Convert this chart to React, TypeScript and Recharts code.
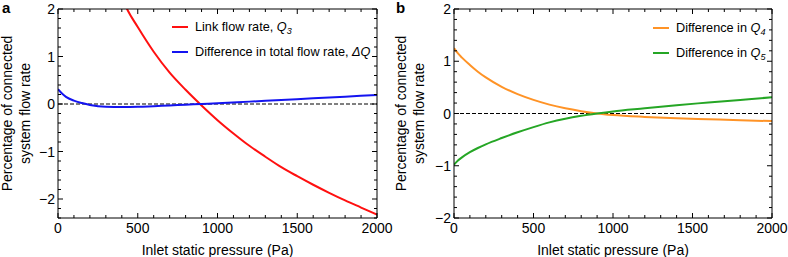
import React from 'react';
import { LineChart, Line, XAxis, YAxis, ReferenceLine, Legend } from 'recharts';

// ---- data ----
const pressureTicks = [0, 100, 200, 300, 400, 500, 600, 700, 800, 900, 1000, 1100, 1200, 1300, 1400, 1500, 1600, 1700, 1800, 1900, 2000];
const yTicksA = [-2.4, -2.2, -2, -1.8, -1.6, -1.4, -1.2, -1, -0.8, -0.6, -0.4, -0.2, 0, 0.2, 0.4, 0.6, 0.8, 1, 1.2, 1.4, 1.6, 1.8, 2];
const yTicksB = [-2, -1.8, -1.6, -1.4, -1.2, -1, -0.8, -0.6, -0.4, -0.2, 0, 0.2, 0.4, 0.6, 0.8, 1, 1.2, 1.4, 1.6, 1.8, 2];

const q3Pressure = [400, 433, 500, 600, 700, 800, 900, 1000, 1100, 1200, 1300, 1400, 1500, 1600, 1700, 1800, 1900, 2000];
const q3Values = [2.25, 2.0, 1.62, 1.1, 0.66, 0.3, -0.03, -0.34, -0.62, -0.88, -1.11, -1.33, -1.52, -1.7, -1.87, -2.03, -2.18, -2.33];

const dqPressure = [0, 25, 50, 100, 150, 200, 300, 400, 500, 600, 700, 800, 900, 1000, 1200, 1400, 1600, 1800, 2000];
const dqValues = [0.31, 0.22, 0.15, 0.07, 0.02, -0.02, -0.06, -0.065, -0.06, -0.045, -0.03, -0.015, 0, 0.015, 0.05, 0.085, 0.12, 0.155, 0.19];

const qbPressure = [0, 25, 50, 100, 150, 200, 300, 400, 500, 600, 700, 800, 900, 1000, 1200, 1400, 1600, 1800, 2000];
const q4Values = [1.25, 1.15, 1.07, 0.93, 0.8, 0.69, 0.51, 0.37, 0.26, 0.17, 0.1, 0.045, 0, -0.03, -0.065, -0.09, -0.11, -0.13, -0.145];
const q5Values = [-0.98, -0.9, -0.84, -0.74, -0.66, -0.59, -0.47, -0.36, -0.26, -0.17, -0.1, -0.045, 0, 0.04, 0.1, 0.16, 0.21, 0.26, 0.31];

const toPoints = (xs: number[], ys: number[]) => xs.map((x, i) => ({ x, y: ys[i] }));

const FONT = '"Liberation Sans", Arial, Helvetica, sans-serif';

type Series = { key: string; points: { x: number; y: number }[]; color: string; pre: string; q: string; sub: string };

const seriesA: Series[] = [
  { key: 'q3', points: toPoints(q3Pressure, q3Values), color: '#ff1010', pre: 'Link flow rate, ', q: 'Q', sub: '3' },
  { key: 'dq', points: toPoints(dqPressure, dqValues), color: '#1414f0', pre: 'Difference in total flow rate, ', q: 'ΔQ', sub: '' },
];
const seriesB: Series[] = [
  { key: 'q4', points: toPoints(qbPressure, q4Values), color: '#ff9326', pre: 'Difference in ', q: 'Q', sub: '4' },
  { key: 'q5', points: toPoints(qbPressure, q5Values), color: '#25a625', pre: 'Difference in ', q: 'Q', sub: '5' },
];

const isMajorX = (v: number) => Math.abs(v % 500) < 1e-6;
const isMajorY = (v: number) => Math.abs(v - Math.round(v)) < 1e-6;
const fmtY = (v: number) => (v < 0 ? '\u2212' + Math.abs(v) : String(v));

const BottomTick = (props: any) => {
  const { x, y, payload } = props;
  const v = payload.value;
  const major = isMajorX(v);
  return (
    <g>
      <line x1={x} x2={x} y1={y} y2={y - (major ? 5 : 3)} stroke="#000" strokeWidth={1} />
      {major && (
        <text x={x} y={y + 15} textAnchor="middle" fontSize={14} fill="#000" fontFamily={FONT}>
          {v}
        </text>
      )}
    </g>
  );
};

const TopTick = (props: any) => {
  const { x, y, payload } = props;
  const major = isMajorX(payload.value);
  return <line x1={x} x2={x} y1={y} y2={y + (major ? 5 : 3)} stroke="#000" strokeWidth={1} />;
};

const LeftTick = (props: any) => {
  const { x, y, payload } = props;
  const v = payload.value;
  const major = isMajorY(v);
  return (
    <g>
      <line x1={x} x2={x + (major ? 5 : 3)} y1={y} y2={y} stroke="#000" strokeWidth={1} />
      {major && (
        <text x={x - 3} y={y + 5} textAnchor="end" fontSize={14} fill="#000" fontFamily={FONT}>
          {fmtY(v)}
        </text>
      )}
    </g>
  );
};

const RightTick = (props: any) => {
  const { x, y, payload } = props;
  const major = isMajorY(payload.value);
  return <line x1={x} x2={x - (major ? 5 : 3)} y1={y} y2={y} stroke="#000" strokeWidth={1} />;
};

const makeYLabel = (letter: string, cy: number) => () => (
  <g>
    <text x={2} y={13} fontSize={15} fontWeight="bold" fill="#000" fontFamily={FONT}>
      {letter}
    </text>
    <text transform={`translate(12, ${cy}) rotate(-90)`} textAnchor="middle" fontSize={14} fill="#000" fontFamily={FONT}>
      <tspan x={0} y={0}>Percentage of connected</tspan>
      <tspan x={0} y={18}>system flow rate</tspan>
    </text>
  </g>
);

const makeLegend = (series: Series[], left: number, top: number) => {
  const content = () => (
    <div style={{ fontFamily: FONT, fontSize: 12.7, color: '#000' }}>
      {series.map((s) => (
        <div key={s.key} style={{ display: 'flex', alignItems: 'center', height: 25, whiteSpace: 'nowrap' }}>
          <span style={{ display: 'inline-block', width: 16, height: 2, background: s.color, marginRight: 7 }} />
          <span>
            {s.pre}
            <i>{s.q}</i>
            {s.sub && (
              <i style={{ fontSize: 9, position: 'relative', top: 3 }}>{s.sub}</i>
            )}
          </span>
        </div>
      ))}
    </div>
  );
  return (
    <Legend
      layout="vertical"
      align="center"
      verticalAlign="middle"
      content={content}
      wrapperStyle={{ left, top, width: 'auto', height: 'auto' }}
    />
  );
};

type PanelProps = {
  letter: string;
  series: Series[];
  yDomain: [number, number];
  yTicks: number[];
  yAxisWidth: number;
  rightMargin: number;
  legendLeft: number;
  legendTop: number;
};

const Panel = ({ letter, series, yDomain, yTicks, yAxisWidth, rightMargin, legendLeft, legendTop }: PanelProps) => {
  const cy = (9 + 218) / 2;
  return (
    <LineChart width={394} height={257} margin={{ top: 8, right: rightMargin, bottom: 0, left: 0 }}>
      <XAxis
        dataKey="x"
        type="number"
        domain={[0, 2000]}
        ticks={pressureTicks}
        interval={0}
        tickSize={0}
        tickMargin={0}
        tickLine={false}
        tick={<BottomTick />}
        axisLine={{ stroke: '#000', strokeWidth: 1 }}
        height={39}
        allowDataOverflow
        label={{ value: 'Inlet static pressure (Pa)', position: 'insideBottom', offset: 2, fill: '#000', fontSize: 14, fontFamily: FONT }}
      />
      <XAxis
        xAxisId="top"
        orientation="top"
        dataKey="x"
        type="number"
        domain={[0, 2000]}
        ticks={pressureTicks}
        interval={0}
        tickSize={0}
        tickMargin={0}
        tickLine={false}
        tick={<TopTick />}
        axisLine={{ stroke: '#000', strokeWidth: 1 }}
        height={1}
        allowDataOverflow
      />
      <YAxis
        type="number"
        domain={yDomain}
        ticks={yTicks}
        interval={0}
        tickSize={0}
        tickMargin={0}
        tickLine={false}
        tick={<LeftTick />}
        axisLine={{ stroke: '#000', strokeWidth: 1 }}
        width={yAxisWidth}
        allowDataOverflow
        label={{ content: makeYLabel(letter, cy) }}
      />
      <YAxis
        yAxisId="right"
        orientation="right"
        type="number"
        domain={yDomain}
        ticks={yTicks}
        interval={0}
        tickSize={0}
        tickMargin={0}
        tickLine={false}
        tick={<RightTick />}
        axisLine={{ stroke: '#000', strokeWidth: 1 }}
        width={1}
        allowDataOverflow
      />
      <ReferenceLine y={0} stroke="#000" strokeWidth={1} strokeDasharray="4 2" />
      {/* invisible helper so the frame axes (top/right) are rendered */}
      <Line
        xAxisId="top"
        yAxisId="right"
        data={series[0].points}
        dataKey="y"
        stroke="none"
        strokeWidth={0}
        dot={false}
        activeDot={false}
        legendType="none"
        isAnimationActive={false}
      />
      {series.map((s) => (
        <Line
          key={s.key}
          data={s.points}
          dataKey="y"
          type="monotone"
          stroke={s.color}
          strokeWidth={2}
          dot={false}
          activeDot={false}
          isAnimationActive={false}
        />
      ))}
      {makeLegend(series, legendLeft, legendTop)}
    </LineChart>
  );
};

export default function App() {
  return (
    <div style={{ position: 'absolute', left: 0, top: 0, width: 788, height: 257, display: 'flex', background: '#fff', fontFamily: FONT }}>
      <Panel
        letter="a"
        series={seriesA}
        yDomain={[-2.4, 2]}
        yTicks={yTicksA}
        yAxisWidth={58}
        rightMargin={16}
        legendLeft={172}
        legendTop={14}
      />
      <Panel
        letter="b"
        series={seriesB}
        yDomain={[-2, 2]}
        yTicks={yTicksB}
        yAxisWidth={60}
        rightMargin={15}
        legendLeft={259}
        legendTop={15}
      />
    </div>
  );
}
